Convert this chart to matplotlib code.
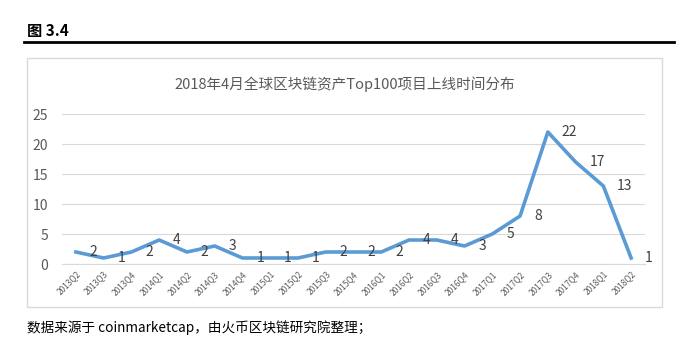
import matplotlib
matplotlib.use('Agg')
import matplotlib.pyplot as plt
from matplotlib.patches import Rectangle
from matplotlib.lines import Line2D

plt.rcParams['font.family'] = ['Noto Sans CJK SC', 'DejaVu Sans']

quarters = ['2013Q2', '2013Q3', '2013Q4', '2014Q1', '2014Q2', '2014Q3', '2014Q4',
            '2015Q1', '2015Q2', '2015Q3', '2015Q4', '2016Q1', '2016Q2', '2016Q3',
            '2016Q4', '2017Q1', '2017Q2', '2017Q3', '2017Q4', '2018Q1', '2018Q2']
counts = [2, 1, 2, 4, 2, 3, 1, 1, 1, 2, 2, 2, 4, 4, 3, 5, 8, 22, 17, 13, 1]
y_ticks = [0, 5, 10, 15, 20, 25]

W, H = 698, 357
fig = plt.figure(figsize=(W / 100, H / 100), dpi=100)

# header and rule
fig.text(27 / W, 1 - 31 / H, '图 3.4', fontsize=11, fontweight='bold',
         va='center', ha='left', color='black')
fig.add_artist(Line2D([24 / W, 674 / W], [1 - 42 / H, 1 - 42 / H],
                      color='black', lw=2, transform=fig.transFigure))

# chart frame
fig.add_artist(Rectangle((27 / W, 1 - 307 / H), (662 - 27) / W, (307 - 58) / H,
                         transform=fig.transFigure, fill=False,
                         edgecolor='#D9D9D9', lw=1))

fig.text(345 / W, 1 - 84 / H, '2018年4月全球区块链资产Top100项目上线时间分布',
         fontsize=10.5, color='#595959', ha='center', va='center')

ax = fig.add_axes([62 / W, 1 - 264 / H, (645 - 62) / W, (264 - 114) / H])
x = list(range(len(quarters)))
ax.plot(x, counts, color='#5B9BD5', lw=2.6, solid_joinstyle='round')

for xi, v in zip(x, counts):
    ax.annotate(str(v), (xi, v), xytext=(10, 0), textcoords='offset points',
                ha='left', va='center', fontsize=10, color='#404040')

ax.set_xlim(-0.5, len(quarters) - 0.5)
ax.set_ylim(0, 25)
ax.set_yticks(y_ticks)
ax.set_xticks(x)
ax.set_xticklabels(quarters, rotation=45, ha='right', rotation_mode='anchor',
                   fontsize=6, color='#595959')
ax.tick_params(axis='y', labelsize=10, labelcolor='#595959', length=0, pad=10)
ax.tick_params(axis='x', length=0, pad=4)
ax.grid(axis='y', color='#D9D9D9', lw=0.8)
ax.set_axisbelow(True)
for s in ['top', 'right', 'left']:
    ax.spines[s].set_visible(False)
ax.spines['bottom'].set_color('#D9D9D9')

fig.text(27 / W, 1 - 328 / H, '数据来源于 coinmarketcap，由火币区块链研究院整理；',
         fontsize=9.8, color='black', ha='left', va='center')

plt.savefig('out.png', dpi=100)
